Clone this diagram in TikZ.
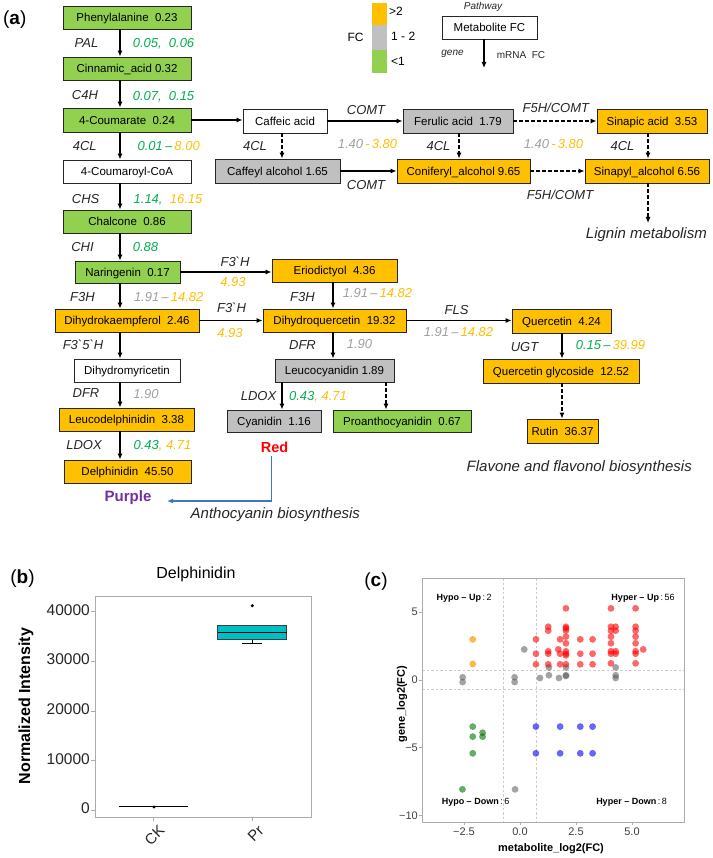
\documentclass[tikz,border=0pt]{standalone}
\usepackage{fontspec}
\setmainfont{Liberation Sans}
\usetikzlibrary{arrows.meta}
\definecolor{cgreen}{HTML}{92D050}
\definecolor{corange}{HTML}{FFC000}
\definecolor{cgray}{HTML}{C0C0C0}
\definecolor{vgreen}{HTML}{00B050}
\definecolor{vgray}{HTML}{A0A0A0}
\definecolor{vorange}{HTML}{FFC000}
\definecolor{ink}{HTML}{262626}
\definecolor{lineblue}{HTML}{4472C4}
\definecolor{cpurple}{HTML}{7030A0}
\definecolor{tealbox}{HTML}{00BFC4}
\newcommand{\setfs}[1]{\fontsize{#1pt}{#1pt}\selectfont}
\begin{document}
\begin{tikzpicture}[x=1pt,y=-1pt,
  box/.style={draw=black!85, line width=0.9pt, inner sep=0pt, font=\setfs{11.5}, text height=8.3pt, text depth=0pt},
  gbox/.style={box, fill=cgreen}, obox/.style={box, fill=corange},
  ybox/.style={box, fill=cgray}, wbox/.style={box, fill=white},
  sz/.style 2 args={minimum width=#1pt, minimum height=#2pt},
  arr/.style={-{Latex[length=6pt,width=5pt]}, line width=1.1pt},
  darr/.style={arr, dash pattern=on 3.5pt off 2.5pt},
  enz/.style={font=\setfs{13}\itshape, text=ink, inner sep=0pt, text height=9.4pt, text depth=0pt},
  val/.style={font=\setfs{13}\itshape, inner sep=0pt, text height=9.4pt, text depth=0pt},
  big/.style={font=\setfs{15}\itshape, text=ink, inner sep=0pt, text height=10.8pt, text depth=0pt},
  lbl/.style={inner sep=0pt, text height=.72em, text depth=0pt},
  panel/.style={font=\setfs{19}, inner sep=0pt, text height=13pt, text depth=0pt},
  frame/.style={draw=gray!65, line width=0.9pt},
  tick/.style={gray!65, line width=0.8pt}
]
\useasboundingbox (0,0) rectangle (712,858);
\fill[white] (0,0) rectangle (712,858);

% ---------------- panel (a) ----------------
\node[panel] (pa) at (14.7,18.3) {(\textbf{a})};

% legend
\fill[corange] (372,3) rectangle (387,25);
\fill[cgray] (372,25) rectangle (387,50);
\fill[cgreen] (372,50) rectangle (387,73);
\node[font=\setfs{12}, lbl, anchor=west] (lg1) at (389,12) {>2};
\node[font=\setfs{12}, lbl, anchor=west] (lg2) at (391,37) {1 - 2};
\node[font=\setfs{12}, lbl, anchor=west] (lg3) at (391,62) {<1};
\node[font=\setfs{12}, lbl] (lgfc) at (355.5,38) {FC};
\node[wbox,sz={95}{23}] (meta) at (489.5,27.5) {Metabolite FC};
\node[font=\setfs{10}\itshape, text=ink, lbl] (pw) at (483,6) {Pathway};
\node[font=\setfs{10}\itshape, text=ink, lbl] (gn) at (452.5,52) {gene};
\node[font=\setfs{10}, text=ink, lbl] (mf) at (521,55) {mRNA~~FC};
\coordinate (metaend) at (484,68);
\draw[arr] (meta.south -| metaend) -- (metaend);

% left column boxes
\node[gbox,sz={128}{23}] (phe) at (127,17.5) {Phenylalanine~~0.23};
\node[gbox,sz={128}{23}] (cin) at (127,68.5) {Cinnamic\_acid~0.32};
\node[gbox,sz={128}{24}] (cou) at (127,120) {4-Coumarate~~0.24};
\node[wbox,sz={128}{23}] (coa) at (127,171.5) {4-Coumaroyl-CoA};
\node[gbox,sz={128}{23}] (cha) at (127,221.5) {Chalcone~~0.86};
\node[gbox,sz={105}{22}] (nar) at (127.5,272) {Naringenin~~0.17};
\node[obox,sz={144}{23}] (dhk) at (127,320.5) {Dihydrokaempferol~~2.46};
\node[wbox,sz={106}{23}] (dhm) at (127,370.5) {Dihydromyricetin};
\node[obox,sz={135}{23}] (leud) at (126.5,419.5) {Leucodelphinidin~~3.38};
\node[obox,sz={127}{23}] (del) at (127.5,471.5) {Delphinidin~~45.50};

% lignin boxes
\node[wbox,sz={84}{24}] (caf) at (285,121) {Caffeic acid};
\node[ybox,sz={110}{24}] (fer) at (458,121) {Ferulic acid~~1.79};
\node[obox,sz={110}{24}] (sna) at (652,121) {Sinapic acid~~3.53};
\node[ybox,sz={125}{24}] (cfl) at (277.5,171) {Caffeyl alcohol 1.65};
\node[obox,sz={133}{24}] (con) at (463.5,171) {Coniferyl\_alcohol 9.65};
\node[obox,sz={124}{24}] (snl) at (647,171) {Sinapyl\_alcohol 6.56};

% flavonoid boxes
\node[obox,sz={125}{23}] (eri) at (334.5,270.5) {Eriodictyol~~4.36};
\node[obox,sz={143}{23}] (dhq) at (334.5,320.5) {Dihydroquercetin~~19.32};
\node[obox,sz={99}{24}] (que) at (561.5,321) {Quercetin~~4.24};
\node[ybox,sz={119}{23}] (lec) at (334.5,370.5) {Leucocyanidin 1.89};
\node[ybox,sz={94}{22}] (cya) at (274,421) {Cyanidin~~1.16};
\node[gbox,sz={138}{22}] (pro) at (402,421) {Proanthocyanidin~~0.67};
\node[obox,sz={156}{24}] (qgl) at (561,371) {Quercetin glycoside~~12.52};
\node[obox,sz={71}{24}] (rut) at (562.5,431) {Rutin~~36.37};

% column coordinates
\coordinate (cA) at (120,0);
\coordinate (cB) at (282,0);
\coordinate (cC) at (459,0);
\coordinate (cD) at (648,0);
\coordinate (cE) at (333,0);
\coordinate (cF) at (386,0);
\coordinate (cG) at (562,0);

% left column connectors
\draw[arr] (phe.south -| cA) -- (cin.north -| cA);
\draw[arr] (cin.south -| cA) -- (cou.north -| cA);
\draw[arr] (cou.south -| cA) -- (coa.north -| cA);
\draw[arr] (coa.south -| cA) -- (cha.north -| cA);
\draw[arr] (cha.south -| cA) -- (nar.north -| cA);
\draw[arr] (nar.south -| cA) -- (dhk.north -| cA);
\draw[arr] (dhk.south -| cA) -- (dhm.north -| cA);
\draw[arr] (dhm.south -| cA) -- (leud.north -| cA);
\draw[arr] (leud.south -| cA) -- (del.north -| cA);

% lignin connectors
\draw[arr] (cou.east) -- (cou.east -| caf.west);
\draw[arr] (caf.east) -- (fer.west);
\draw[darr] (fer.east) -- (sna.west);
\draw[darr] (caf.south -| cB) -- (cfl.north -| cB);
\draw[darr] (fer.south -| cC) -- (con.north -| cC);
\draw[darr] (sna.south -| cD) -- (snl.north -| cD);
\draw[arr] (cfl.east) -- (con.west);
\draw[darr] (con.east) -- (snl.west);
\coordinate (ligend) at (648,223);
\draw[darr] (snl.south -| cD) -- (ligend);

% flavonoid connectors
\draw[arr] (nar.east) -- (nar.east -| eri.west);
\draw[arr] (dhk.east) -- (dhq.west);
\draw[arr] (eri.south -| cE) -- (dhq.north -| cE);
\draw[arr] (dhq.east) -- (dhq.east -| que.west);
\draw[arr] (dhq.south -| cE) -- (lec.north -| cE);
\draw[arr] (lec.south -| cB) -- (cya.north -| cB);
\draw[darr] (lec.south -| cF) -- (pro.north -| cF);
\draw[arr] (que.south -| cG) -- (qgl.north -| cG);
\draw[darr] (qgl.south -| cG) -- (rut.north -| cG);

% left column labels
\node[enz] (e1) at (86.5,43) {PAL};
\node[val,text=vgreen] (v1) at (163.5,43) {0.05,~~0.06};
\node[enz] (e2) at (85,95) {C4H};
\node[val,text=vgreen] (v2) at (163.5,96) {0.07,~~0.15};
\node[enz] (e3) at (84.7,146) {4CL};
\node[val] (v3) at (168.7,146) {\textcolor{vgreen}{0.01\,–}\,\textcolor{vorange}{8.00}};
\node[enz] (e4) at (85.7,199) {CHS};
\node[val] (v4) at (168,199) {\textcolor{vgreen}{1.14,}~~\textcolor{vorange}{16.15}};
\node[enz] (e5) at (82.5,247) {CHI};
\node[val,text=vgreen] (v5) at (145.5,247) {0.88};
\node[enz] (e6) at (82.5,297) {F3H};
\node[val] (v6) at (168.7,297) {\textcolor{vgray}{1.91\,–}\,\textcolor{vorange}{14.82}};
\node[enz] (e7) at (83,345) {F3\textasciigrave5\textasciigrave H};
\node[enz] (e8) at (86,393) {DFR};
\node[val,text=vgray] (v8) at (146,394) {1.90};
\node[enz] (e9) at (84,445) {LDOX};
\node[val] (v9) at (162.5,445) {\textcolor{vgreen}{0.43}\textcolor{vorange}{,~4.71}};

% lignin labels
\node[enz] (l1) at (366,110) {COMT};
\node[enz] (l2) at (555.8,108) {F5H/COMT};
\node[enz] (l3) at (255,146) {4CL};
\node[val] (l4) at (367.5,144) {\textcolor{vgray}{1.40}\,\textcolor{vorange}{-\,3.80}};
\node[enz] (l5) at (438.5,146) {4CL};
\node[val] (l6) at (553.5,144) {\textcolor{vgray}{1.40}\,\textcolor{vorange}{-\,3.80}};
\node[enz] (l7) at (622.5,146) {4CL};
\node[enz] (l8) at (366,185) {COMT};
\node[enz] (l9) at (560,195) {F5H/COMT};
\node[big, anchor=east] (lig) at (707,233) {Lignin metabolism};

% flavonoid labels
\node[enz] (f1) at (235,262) {F3\textasciigrave H};
\node[val,text=vorange] (f2) at (233,282) {4.93};
\node[enz] (f3) at (231.5,308) {F3\textasciigrave H};
\node[val,text=vorange] (f4) at (230,333) {4.93};
\node[enz] (f5) at (302.5,297) {F3H};
\node[val] (f6) at (377.5,293) {\textcolor{vgray}{1.91\,–}\,\textcolor{vorange}{14.82}};
\node[enz] (f7) at (456.5,310) {FLS};
\node[val] (f8) at (458.5,332) {\textcolor{vgray}{1.91\,–}\,\textcolor{vorange}{14.82}};
\node[enz] (f9) at (302.5,345) {DFR};
\node[val,text=vgray] (f10) at (359.5,344) {1.90};
\node[enz] (f11) at (258.5,396) {LDOX};
\node[val] (f12) at (318,396) {\textcolor{vgreen}{0.43}\textcolor{vorange}{,~4.71}};
\node[enz] (f13) at (524.5,347) {UGT};
\node[val] (f14) at (610.5,345) {\textcolor{vgreen}{0.15\,–}\,\textcolor{vorange}{39.99}};
\node[big, anchor=east] (flv) at (692,466) {Flavone and flavonol biosynthesis};

% colours / anthocyanin
\node[font=\setfs{14.5}\bfseries, text=red, inner sep=0pt, text height=10.4pt, text depth=0pt] (redl) at (274.5,447) {Red};
\node[font=\setfs{15}\bfseries, text=cpurple, inner sep=0pt, text height=10.8pt, text depth=0pt] (purl) at (128,496) {Purple};
\node[big, anchor=west] (anth) at (190.5,513) {Anthocyanin biosynthesis};
\coordinate (bx) at (271.7,0);
\coordinate (pend) at (167,501);
\draw[-{Latex[length=6pt,width=5pt]}, lineblue, line width=1.2pt, shorten <=4pt] (redl.south -| bx) |- (pend);

% ---------------- panel (b) ----------------
\node[panel] (pb) at (22.5,577) {(\textbf{b})};
\node[font=\setfs{16}, lbl] (btitle) at (196,575) {Delphinidin};
\draw[frame] (95,596) rectangle (311,817);
\foreach \yy/\lab in {611.7/40000, 661.3/30000, 710.9/20000, 760.6/10000, 810.3/0}{
  \draw[tick] (91,\yy) -- (95,\yy);
  \node[font=\setfs{15.5}, lbl, anchor=east, text=black!85] (by\lab) at (90,\yy) {\lab};
}
\node[font=\setfs{16}\bfseries, rotate=90, inner sep=0pt] (bylab) at (26,706) {Normalized Intensity};
\draw[tick] (153,817) -- (153,821);
\draw[tick] (252,817) -- (252,821);
\node[font=\setfs{15}, rotate=45, anchor=north east, inner sep=0pt, text height=10.7pt, text depth=0pt, text=black!85] (bck) at (158,824) {CK};
\node[font=\setfs{15}, rotate=45, anchor=north east, inner sep=0pt, text height=10.7pt, text depth=0pt, text=black!85] (bpr) at (257,824) {Pr};
% CK box (collapsed)
\draw[line width=1.3pt] (119,806.7) -- (188,806.7);
\fill (154,807) circle (1.7pt);
% Pr box
\draw[line width=0.9pt] (252.2,639) -- (252.2,643.3);
\draw[line width=0.9pt] (242,643.3) -- (262,643.3);
\draw[fill=tealbox, draw=black!75, line width=0.9pt] (217.7,625.7) rectangle (286.7,639);
\draw[line width=1.3pt] (217.7,632.3) -- (286.7,632.3);
\fill (252.3,605.7) circle (1.7pt);

% ---------------- panel (c) ----------------
\node[panel] (pc) at (376,580) {(\textbf{c})};
\draw[gray!40, dash pattern=on 2.5pt off 2pt, line width=0.7pt] (503.4,578) -- (503.4,822);
\draw[gray!40, dash pattern=on 2.5pt off 2pt, line width=0.7pt] (536.6,578) -- (536.6,822);
\draw[gray!40, dash pattern=on 2.5pt off 2pt, line width=0.7pt] (422,670.2) -- (684,670.2);
\draw[gray!40, dash pattern=on 2.5pt off 2pt, line width=0.7pt] (422,689.8) -- (684,689.8);
\draw[frame] (422,578) rectangle (684,822);
\foreach \yy/\lab/\nm in {612.25/5/a, 680/0/b, 747.75/−5/c, 815.5/−10/d}{
  \draw[tick] (419,\yy) -- (422,\yy);
  \node[font=\setfs{11}, lbl, anchor=east, text=black!75] (cy\nm) at (418,\yy) {\lab};
}
\foreach \xx/\lab/\nm in {464/−2.5/a, 520/0.0/b, 576/2.5/c, 632/5.0/d}{
  \draw[tick] (\xx,822) -- (\xx,825);
  \node[font=\setfs{11}, lbl, text=black!75] (cx\nm) at (\xx,832) {\lab};
}
\node[font=\setfs{11}\bfseries, lbl] (cxlab) at (551,848) {metabolite\_log2(FC)};
\node[font=\setfs{11}\bfseries, rotate=90, inner sep=0pt] (cylab) at (402,704) {gene\_log2(FC)};
\node[font=\setfs{9}, lbl] (q1) at (464,597) {\textbf{Hypo – Up}\,:\,2};
\node[font=\setfs{9}, lbl] (q2) at (643,597) {\textbf{Hyper – Up}\,:\,56};
\node[font=\setfs{9}, lbl] (q3) at (475.5,801) {\textbf{Hypo – Down}\,:\,6};
\node[font=\setfs{9}, lbl] (q4) at (631.5,801) {\textbf{Hyper – Down}\,:\,8};

\begin{scope}[shift={(520,680)}]
\begin{scope}[x=22.4pt,y=13.55pt]
\foreach \a/\b in {0.19/2.26, -2.56/0.2, -2.56/-0.15, -0.24/0.2, -0.24/-0.15, 0.89/0.15, 1.29/0.93, 1.29/0.35, 1.74/0.15, 2.05/0.93, 2.05/0.35, 2.05/0.3, 4.27/0.93, 4.27/0.35, 4.27/0.15, -0.22/-8.07}
  \fill[gray!70!black, opacity=0.55] (\a,\b) circle (3.4pt);
\foreach \a/\b in {0.71/3.0, 0.71/1.94, 0.71/1.16, 1.26/3.93, 1.26/3.64, 1.26/2.12, 1.26/1.94, 1.26/1.16, 1.79/3.0, 1.71/2.26, 1.79/1.94, 1.79/1.16, 2.05/5.29, 2.05/3.93, 2.05/3.81, 2.05/3.64, 2.05/3.2, 2.05/2.71, 2.05/2.12, 2.05/1.94, 2.05/1.82, 2.05/1.16, 2.69/3.0, 2.69/1.94, 2.69/1.16, 3.24/3.0, 3.24/1.94, 3.24/1.16, 4.06/5.29, 4.06/3.93, 4.06/3.64, 4.06/3.2, 4.06/2.71, 4.06/2.12, 4.06/1.94, 4.06/1.23, 4.27/3.93, 4.27/3.64, 4.27/2.12, 4.27/1.94, 5.16/5.29, 5.16/3.93, 5.16/3.64, 5.16/3.2, 5.16/2.71, 5.16/2.12, 5.16/1.94, 5.16/1.23, 5.5/2.26}
  \fill[red, opacity=0.6] (\a,\b) circle (3.4pt);
\foreach \a/\b in {-2.11/3.0, -2.11/1.18}
  \fill[orange!80!yellow, opacity=0.7] (\a,\b) circle (3.4pt);
\foreach \a/\b in {-2.11/-3.44, -1.67/-3.89, -2.11/-4.18, -1.67/-4.18, -2.11/-5.41, -2.57/-8.07}
  \fill[green!45!black, opacity=0.6] (\a,\b) circle (3.4pt);
\foreach \a in {0.71, 1.79, 2.69, 3.24}{
  \fill[blue, opacity=0.6] (\a,-3.44) circle (3.4pt);
  \fill[blue, opacity=0.6] (\a,-5.41) circle (3.4pt);
}
\end{scope}
\end{scope}
\end{tikzpicture}
\end{document}
